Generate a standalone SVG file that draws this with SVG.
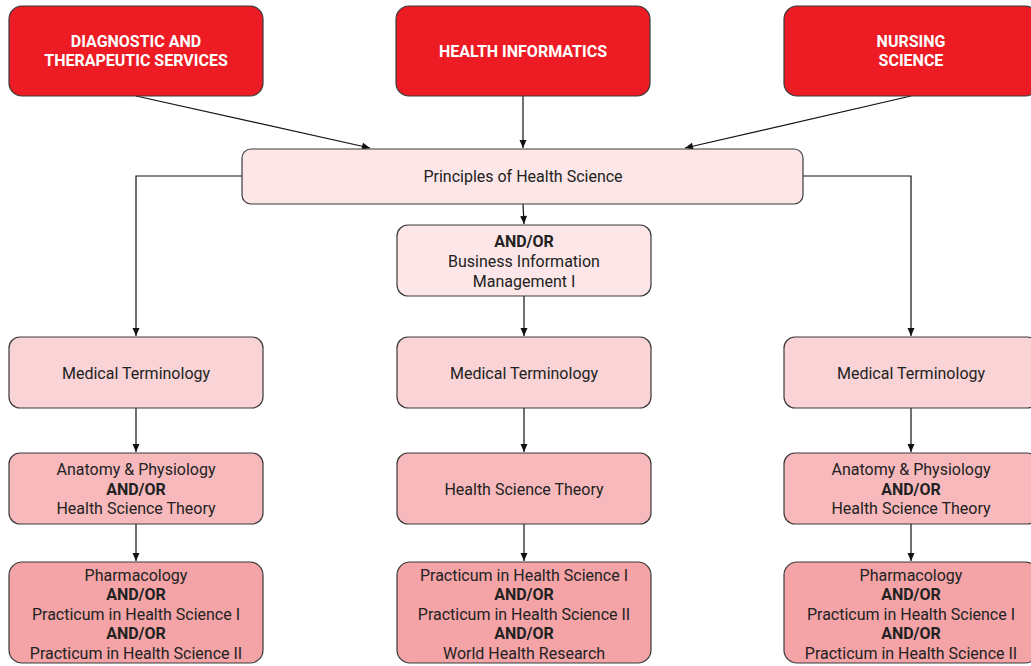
<svg xmlns="http://www.w3.org/2000/svg" width="1031" height="666" viewBox="0 0 1031 666">
<defs>
<marker id="ah" markerWidth="10" markerHeight="10" refX="9" refY="5" orient="auto" markerUnits="userSpaceOnUse">
<path d="M1,1.5 L9,5 L1,8.5 Z" fill="#111"/>
</marker>
<style>
.box{stroke:#3a3a3a;stroke-width:1.2}
.red{fill:#ED1C24}
.p0{fill:#FCE6E7}
.p1{fill:#F9D3D5}
.p2{fill:#F7B9BC}
.p3{fill:#F4A3A6}
.t{font-family:Roboto,"Liberation Sans",sans-serif;font-size:16px;fill:#222;text-anchor:middle}
.b{font-weight:bold}
.w{font-family:Roboto,"Liberation Sans",sans-serif;font-size:16px;font-weight:bold;fill:#fff;text-anchor:middle}
.c{fill:none;stroke:#111;stroke-width:1.2}
</style>
</defs>
<rect width="1031" height="666" fill="#fff"/>
<g id="connectors">
<path class="c" d="M136,96 L370,148" marker-end="url(#ah)"/>
<path class="c" d="M523,96 L523,148" marker-end="url(#ah)"/>
<path class="c" d="M911,96 L685,148" marker-end="url(#ah)"/>
<path class="c" d="M242,176 L136,176 L136,336" marker-end="url(#ah)"/>
<path class="c" d="M803,176 L911,176 L911,336" marker-end="url(#ah)"/>
<path class="c" d="M523,204 L524,224" marker-end="url(#ah)"/>
<path class="c" d="M524,296 L524,336" marker-end="url(#ah)"/>
<path class="c" d="M136,408 L136,452" marker-end="url(#ah)"/>
<path class="c" d="M524,408 L524,452" marker-end="url(#ah)"/>
<path class="c" d="M911,408 L911,452" marker-end="url(#ah)"/>
<path class="c" d="M136,524 L136,561" marker-end="url(#ah)"/>
<path class="c" d="M524,524 L524,561" marker-end="url(#ah)"/>
<path class="c" d="M911,524 L911,561" marker-end="url(#ah)"/>
</g>
<g id="diag">
<rect class="box red" x="9" y="6" width="254" height="90" rx="13"/>
<text class="w" x="136" y="47">DIAGNOSTIC AND</text>
<text class="w" x="136" y="66">THERAPEUTIC SERVICES</text>
</g>
<g id="hi">
<rect class="box red" x="396" y="6" width="254" height="90" rx="13"/>
<text class="w" x="523" y="57">HEALTH INFORMATICS</text>
</g>
<g id="nursing">
<rect class="box red" x="784" y="6" width="254" height="90" rx="13"/>
<text class="w" x="911" y="47">NURSING</text>
<text class="w" x="911" y="66">SCIENCE</text>
</g>
<g id="principles">
<rect class="box p0" x="242" y="149" width="561" height="55" rx="9"/>
<text class="t" x="523" y="182">Principles of Health Science</text>
</g>
<g id="bim">
<rect class="box p0" x="397" y="225" width="254" height="71" rx="11"/>
<text class="t b" x="524" y="247">AND/OR</text>
<text class="t" x="524" y="267">Business Information</text>
<text class="t" x="524" y="287">Management I</text>
</g>
<g id="mt1">
<rect class="box p1" x="9" y="337" width="254" height="71" rx="11"/>
<text class="t" x="136" y="379">Medical Terminology</text>
</g>
<g id="mt2">
<rect class="box p1" x="397" y="337" width="254" height="71" rx="11"/>
<text class="t" x="524" y="379">Medical Terminology</text>
</g>
<g id="mt3">
<rect class="box p1" x="784" y="337" width="254" height="71" rx="11"/>
<text class="t" x="911" y="379">Medical Terminology</text>
</g>
<g id="ap1">
<rect class="box p2" x="9" y="453" width="254" height="71" rx="11"/>
<text class="t" x="136" y="475">Anatomy &amp; Physiology</text>
<text class="t b" x="136" y="495">AND/OR</text>
<text class="t" x="136" y="514">Health Science Theory</text>
</g>
<g id="hst">
<rect class="box p2" x="397" y="453" width="254" height="71" rx="11"/>
<text class="t" x="524" y="495">Health Science Theory</text>
</g>
<g id="ap3">
<rect class="box p2" x="784" y="453" width="254" height="71" rx="11"/>
<text class="t" x="911" y="475">Anatomy &amp; Physiology</text>
<text class="t b" x="911" y="495">AND/OR</text>
<text class="t" x="911" y="514">Health Science Theory</text>
</g>
<g id="ph1">
<rect class="box p3" x="9" y="562" width="254" height="101" rx="13"/>
<text class="t" x="136" y="581">Pharmacology</text>
<text class="t b" x="136" y="600">AND/OR</text>
<text class="t" x="136" y="620">Practicum in Health Science I</text>
<text class="t b" x="136" y="639">AND/OR</text>
<text class="t" x="136" y="659">Practicum in Health Science II</text>
</g>
<g id="pr2">
<rect class="box p3" x="397" y="562" width="254" height="101" rx="13"/>
<text class="t" x="524" y="581">Practicum in Health Science I</text>
<text class="t b" x="524" y="600">AND/OR</text>
<text class="t" x="524" y="620">Practicum in Health Science II</text>
<text class="t b" x="524" y="639">AND/OR</text>
<text class="t" x="524" y="659">World Health Research</text>
</g>
<g id="ph3">
<rect class="box p3" x="784" y="562" width="254" height="101" rx="13"/>
<text class="t" x="911" y="581">Pharmacology</text>
<text class="t b" x="911" y="600">AND/OR</text>
<text class="t" x="911" y="620">Practicum in Health Science I</text>
<text class="t b" x="911" y="639">AND/OR</text>
<text class="t" x="911" y="659">Practicum in Health Science II</text>
</g>
</svg>
